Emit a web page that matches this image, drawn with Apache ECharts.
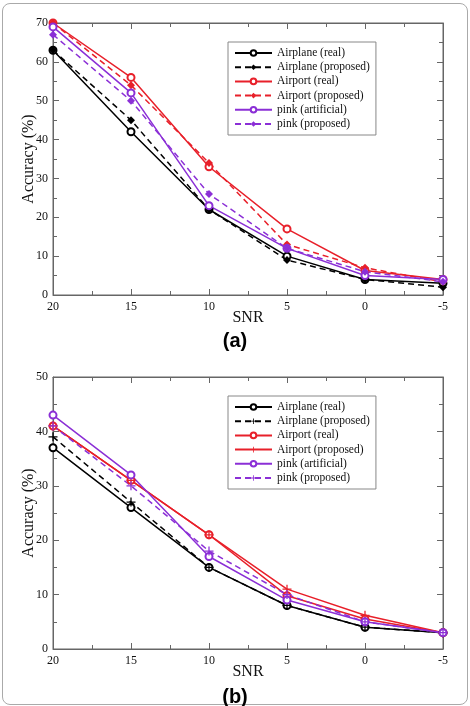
<!DOCTYPE html>
<html>
<head>
<meta charset="utf-8">
<script src="https://cdn.jsdelivr.net/npm/echarts@6/dist/echarts.min.js"></script>
<style>
  html, body { margin: 0; padding: 0; background: #fff; }
  #frame { position: absolute; left: 2px; top: 3px; width: 464px; height: 700px; border: 1px solid #aaa; border-radius: 8px; }
  #chartA { position: absolute; left: 0; top: 0; width: 470px; height: 360px; }
  #chartB { position: absolute; left: 0; top: 360px; width: 470px; height: 346px; }
</style>
</head>
<body>
<div id="frame"></div>
<div id="chartA"></div>
<div id="chartB"></div>
<script>
// SNR values (x axis, reversed)
var snr = [20, 15, 10, 5, 0, -5];

// chart (a)
var aAirplaneReal = [63, 42, 22, 10, 4, 3];
var aAirplaneProp = [63, 45, 22, 9, 4, 2];
var aAirportReal = [70, 56, 33, 17, 6.3, 4];
var aAirportProp = [70, 54, 34, 13, 7, 3.4];
var aPinkReal = [69, 52, 23, 12, 5, 4];
var aPinkProp = [67, 50, 26, 12, 6, 3.4];

// chart (b)
var bAirplaneReal = [37, 26, 15, 8, 4, 3];
var bAirplaneProp = [39, 27, 15, 8, 4, 3];
var bAirportReal = [41, 31, 21, 9.8, 5.5, 3];
var bAirportProp = [41, 31, 21, 11, 6.2, 3];
var bPinkReal = [43, 32, 17, 9, 5, 3];
var bPinkProp = [41, 30, 18, 10, 5, 3];

var names = ['Airplane (real)', 'Airplane (proposed)', 'Airport (real)', 'Airport (proposed)', 'pink (artificial)', 'pink (proposed)'];

var BLACK = '#000000', RED = '#e8202a', PURPLE = '#8b2fd6';
var SERIF = '"Liberation Serif", "DejaVu Serif", serif';
var PLUS = 'path://M4.3,0H5.7V4.3H10V5.7H5.7V10H4.3V5.7H0V4.3H4.3Z';

function pairs(vals) {
    var out = [];
    for (var i = 0; i < snr.length; i++) out.push([snr[i], vals[i]]);
    return out;
}

function mkSeries(name, vals, color, dashed, symbol) {
    var hollow = symbol == 'emptyCircle';
    return {
        name: name,
        type: 'line',
        data: pairs(vals),
        symbol: symbol,
        symbolSize: symbol == PLUS ? 9 : (hollow ? 7 : 8),
        showSymbol: true,
        lineStyle: { color: color, width: 1.5, type: dashed ? [6, 4] : 'solid' },
        itemStyle: { color: color, borderColor: color, borderWidth: hollow ? 1.5 : 0 },
        emphasis: { disabled: true },
        animation: false
    };
}

function axisSet(yMax, showLabel, pos, isX) {
    var ax = {
        type: 'value',
        position: pos,
        min: isX ? -5 : 0,
        max: isX ? 20 : yMax,
        interval: isX ? 5 : 10,
        inverse: isX,
        axisLine: { show: true, onZero: false, lineStyle: { color: '#666', width: 1 } },
        axisTick: { show: true, inside: true, length: 6, lineStyle: { color: '#666' } },
        minorTick: { show: true, splitNumber: 2, length: 4, lineStyle: { color: '#666' } },
        splitLine: { show: false },
        axisLabel: { show: showLabel, color: '#111', fontFamily: SERIF, fontSize: 12, margin: isX ? 6 : 5 }
    };
    return ax;
}

function buildOption(yMax, series, label, gridTop, legendTop, labelTop) {
    var x0 = axisSet(yMax, true, 'bottom', true);
    x0.name = 'SNR';
    x0.nameLocation = 'middle';
    x0.nameGap = 15;
    x0.nameMoveOverlap = false;
    x0.nameTextStyle = { fontFamily: SERIF, fontSize: 16, color: '#111' };
    var y0 = axisSet(yMax, true, 'left', false);
    y0.name = 'Accuracy (%)';
    y0.nameLocation = 'middle';
    y0.nameGap = 16;
    y0.nameMoveOverlap = false;
    y0.nameTextStyle = { fontFamily: SERIF, fontSize: 16, color: '#111' };
    return {
        animation: false,
        title: {
            text: label,
            left: 'center',
            top: labelTop,
            textStyle: { fontFamily: '"Liberation Sans", Arial, sans-serif', fontSize: 20, fontWeight: 'bold', color: '#000' }
        },
        grid: { left: 53, width: 390, top: gridTop, height: 272, show: true, borderColor: '#666', borderWidth: 1 },
        xAxis: [x0, axisSet(yMax, false, 'top', true)],
        yAxis: [y0, axisSet(yMax, false, 'right', false)],
        legend: {
            data: names,
            orient: 'vertical',
            left: 228,
            top: legendTop,
            padding: [4, 6, 4, 6],
            itemWidth: 37,
            itemHeight: 7,
            itemGap: 0.2,
            backgroundColor: '#fff',
            borderColor: '#888',
            borderWidth: 1,
            borderRadius: 0,
            selectedMode: false,
            textStyle: { fontFamily: SERIF, fontSize: 11.5, lineHeight: 14, color: '#111' }
        },
        series: series
    };
}

var seriesA = [
    mkSeries(names[0], aAirplaneReal, BLACK, false, 'emptyCircle'),
    mkSeries(names[1], aAirplaneProp, BLACK, true, 'diamond'),
    mkSeries(names[2], aAirportReal, RED, false, 'emptyCircle'),
    mkSeries(names[3], aAirportProp, RED, true, 'diamond'),
    mkSeries(names[4], aPinkReal, PURPLE, false, 'emptyCircle'),
    mkSeries(names[5], aPinkProp, PURPLE, true, 'diamond')
];
var seriesB = [
    mkSeries(names[0], bAirplaneReal, BLACK, false, 'emptyCircle'),
    mkSeries(names[1], bAirplaneProp, BLACK, true, PLUS),
    mkSeries(names[2], bAirportReal, RED, false, 'emptyCircle'),
    mkSeries(names[3], bAirportProp, RED, false, PLUS),
    mkSeries(names[4], bPinkReal, PURPLE, false, 'emptyCircle'),
    mkSeries(names[5], bPinkProp, PURPLE, true, PLUS)
];

var chartA = echarts.init(document.getElementById('chartA'));
chartA.setOption(buildOption(70, seriesA, '(a)', 23, 42, 326));
var chartB = echarts.init(document.getElementById('chartB'));
chartB.setOption(buildOption(50, seriesB, '(b)', 17, 36, 322));
</script>
</body>
</html>
